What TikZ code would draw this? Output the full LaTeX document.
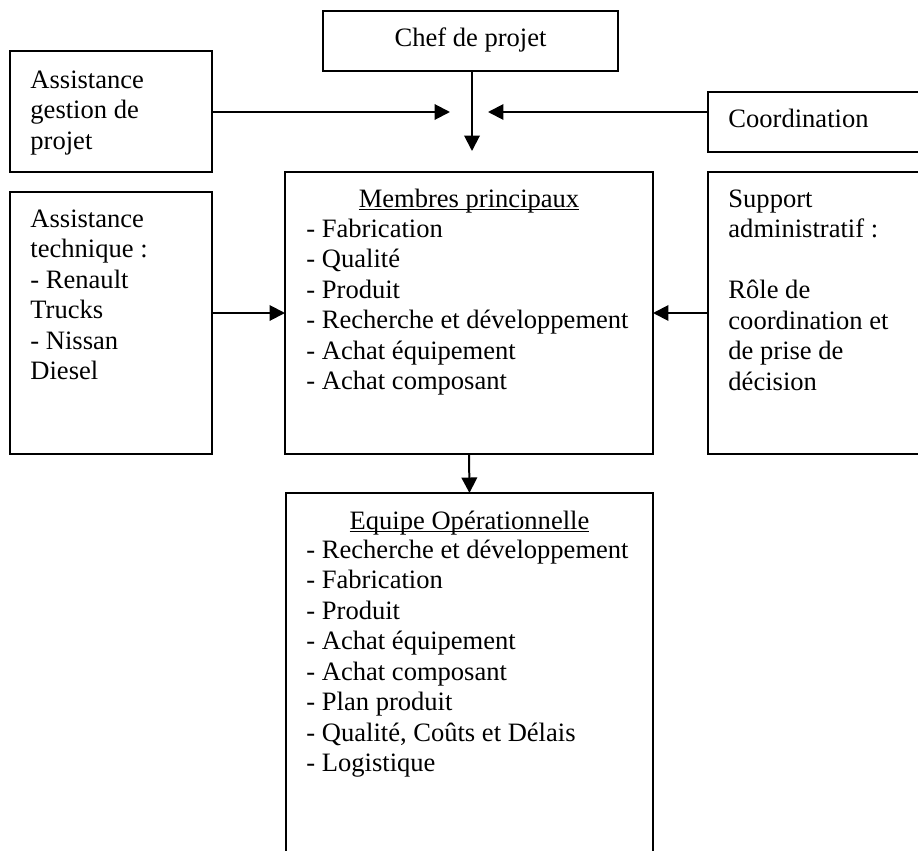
\documentclass[tikz,border=0pt]{standalone}
\usepackage{fontspec}
\setmainfont{Liberation Serif}
\usetikzlibrary{arrows.meta}

% underline sitting just below the baseline, crossing the descenders
\newcommand\ulbase[1]{\setbox0\hbox{#1}\rlap{\rule[-1.5pt]{\wd0}{0.55pt}}\box0}

\begin{document}
\begin{tikzpicture}[x=0.452pt,y=-0.452pt,
  box/.style={draw,line width=0.9pt,inner sep=0pt,outer sep=0pt},
  txt/.style={inner sep=0pt,anchor=base west,font=\fontsize{12}{13.8}\selectfont},
  ttl/.style={inner sep=0pt,anchor=base,font=\fontsize{12}{13.8}\selectfont},
  arr/.style={line width=0.9pt,-{Triangle[length=7pt,width=7pt]}}]
\useasboundingbox (0,0) rectangle (918,850);
\clip (0,0) rectangle (918,850);

% boxes
\node[box,minimum width=295*0.452pt,minimum height=60*0.452pt] (chef) at (470.5,41) {};
\node[box,minimum width=202*0.452pt,minimum height=121*0.452pt] (agp) at (111,111.5) {};
\node[box,minimum width=252*0.452pt,minimum height=60*0.452pt] (coord) at (834,122) {};
\node[box,minimum width=202*0.452pt,minimum height=262*0.452pt] (at) at (111,323) {};
\node[box,minimum width=368*0.452pt,minimum height=282*0.452pt] (mp) at (469,313) {};
\node[box,minimum width=252*0.452pt,minimum height=282*0.452pt] (sa) at (834,313) {};
\node[box,minimum width=367*0.452pt,minimum height=407*0.452pt] (eo) at (469.5,696.5) {};

% texts
\node[ttl] (tchef) at (470.5,47) {Chef de projet};
\node[txt] (tagp) at (30,88) {\parbox[t]{80pt}{Assistance\\gestion de\\projet}};
\node[txt] (tcoord) at (728,127) {Coordination};
\node[txt] (tat) at (30,227) {\parbox[t]{80pt}{Assistance\\technique :\\- Renault\\Trucks\\- Nissan\\Diesel}};
\node[ttl] (tmp) at (469,207) {\ulbase{Membres principaux}};
\node[txt] (lmp) at (306,237) {\parbox[t]{160pt}{- Fabrication\\- Qualité\\- Produit\\- Recherche et développement\\- Achat équipement\\- Achat composant}};
\node[txt] (tsa) at (728,207) {\parbox[t]{90pt}{Support\\administratif :\\\mbox{}\\Rôle de\\coordination et\\de prise de\\décision}};
\node[ttl] (teo) at (469.5,529) {\ulbase{Equipe Opérationnelle}};
\node[txt] (leo) at (306,558) {\parbox[t]{160pt}{- Recherche et développement\\- Fabrication\\- Produit\\- Achat équipement\\- Achat composant\\- Plan produit\\- Qualité, Coûts et Délais\\- Logistique}};

% connectors
\coordinate (hub) at (472,151);
\coordinate (ltip) at (450,112);
\coordinate (rtip) at (488,112);
\coordinate (lmid) at (285,313);
\coordinate (rmid) at (653,313);
\draw[arr] (chef.south -| hub) -- (hub);
\draw[arr] (ltip -| agp.east) -- (ltip);
\draw[arr] (rtip -| coord.west) -- (rtip);
\draw[arr] (lmid -| at.east) -- (lmid -| mp.west);
\draw[arr] (rmid -| sa.west) -- (rmid -| mp.east);
\draw[arr] (mp.south) -- (eo.north);
\end{tikzpicture}
\end{document}
